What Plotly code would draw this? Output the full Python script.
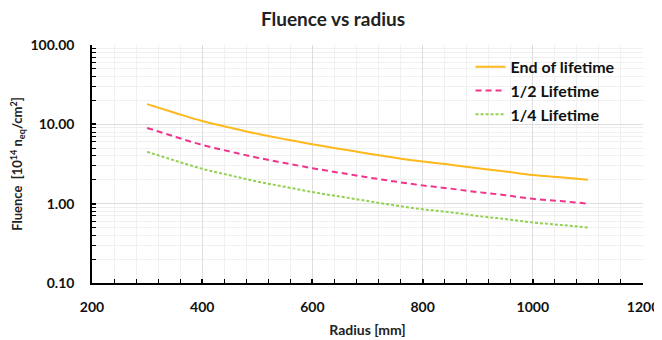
import plotly.graph_objects as go

radius = [300, 350, 400, 450, 500, 550, 600, 650, 700, 750, 800, 850, 900, 950, 1000, 1050, 1100]
end_of_lifetime = [18.0, 14.0, 11.0, 9.1, 7.6, 6.5, 5.6, 4.9, 4.3, 3.8, 3.4, 3.1, 2.8, 2.55, 2.3, 2.15, 2.0]
half_lifetime = [9.0, 7.0, 5.5, 4.55, 3.8, 3.25, 2.8, 2.45, 2.15, 1.9, 1.7, 1.55, 1.4, 1.28, 1.15, 1.08, 1.0]
quarter_lifetime = [4.5, 3.5, 2.75, 2.28, 1.9, 1.63, 1.4, 1.23, 1.08, 0.95, 0.85, 0.78, 0.7, 0.64, 0.58, 0.54, 0.5]

series_names = ["End of lifetime", "1/2 Lifetime", "1/4 Lifetime"]
x_ticks = [200, 400, 600, 800, 1000, 1200]
y_ticks = [0.1, 1, 10, 100]
y_tick_labels = ["0.10", "1.00", "10.00", "100.00"]

FONT = "Lato, 'Open Sans', sans-serif"

fig = go.Figure()
fig.add_trace(go.Scatter(x=radius, y=end_of_lifetime, mode="lines", name=series_names[0],
                         line=dict(color="#FFB81C", width=2, shape="spline")))
fig.add_trace(go.Scatter(x=radius, y=half_lifetime, mode="lines", name=series_names[1],
                         line=dict(color="#F0338C", width=2, dash="6px,4px", shape="spline")))
fig.add_trace(go.Scatter(x=radius, y=quarter_lifetime, mode="lines", name=series_names[2],
                         line=dict(color="#92D050", width=2, dash="3px,2px", shape="spline")))

# page body has an 8px default margin, so the figure is sized to fit inside the window
fig.update_layout(
    width=654, height=332,
    margin=dict(l=84, r=19, t=37, b=57, autoexpand=False),
    paper_bgcolor="white", plot_bgcolor="white",
    font=dict(family=FONT, color="#222222"),
    title=dict(text="Fluence vs radius", x=0.497, xanchor="center", y=0.966, yanchor="middle",
               font=dict(size=19, weight="bold", color="#222222")),
    legend=dict(x=0.687, y=0.98, xanchor="left", yanchor="top", bgcolor="rgba(0,0,0,0)",
                font=dict(size=16, weight="bold", color="#111111"), tracegroupgap=0,
                itemwidth=30),
    showlegend=True,
)

fig.update_xaxes(
    range=[200, 1200], tickvals=x_ticks, ticktext=[str(v) for v in x_ticks],
    automargin=False,
    showline=True, linecolor="black", linewidth=1.5, mirror=False,
    ticks="inside", ticklen=4, tickcolor="black", tickwidth=1.5,
    ticklabelstandoff=10,
    showgrid=True, gridcolor="#DDDDDD", gridwidth=1,
    minor=dict(dtick=40, tick0=200, ticks="inside", ticklen=4, tickcolor="black", tickwidth=1,
               showgrid=True, gridcolor="#F0F0F0", gridwidth=1),
    tickfont=dict(size=14, weight="bold", color="#111111"),
    title=dict(text="Radius [mm]", font=dict(size=14, weight="bold", color="#222222"), standoff=12),
    zeroline=False,
)

fig.update_yaxes(
    type="log", range=[-1, 2], tickvals=y_ticks, ticktext=y_tick_labels,
    automargin=False,
    showline=True, linecolor="black", linewidth=1.5, mirror=False,
    ticks="inside", ticklen=4, tickcolor="black", tickwidth=1.5,
    ticklabelstandoff=13,
    showgrid=True, gridcolor="#DDDDDD", gridwidth=1,
    minor=dict(dtick="D1", ticks="inside", ticklen=4, tickcolor="black", tickwidth=1,
               showgrid=True, gridcolor="#F0F0F0", gridwidth=1),
    tickfont=dict(size=14, weight="bold", color="#111111"),
    title=dict(text="Fluence  [10<sup>14</sup> n<sub>eq</sub>/cm<sup>2</sup>]",
               font=dict(size=13, weight="bold", color="#222222"), standoff=5),
    zeroline=False,
)

fig.write_html("out.html")
